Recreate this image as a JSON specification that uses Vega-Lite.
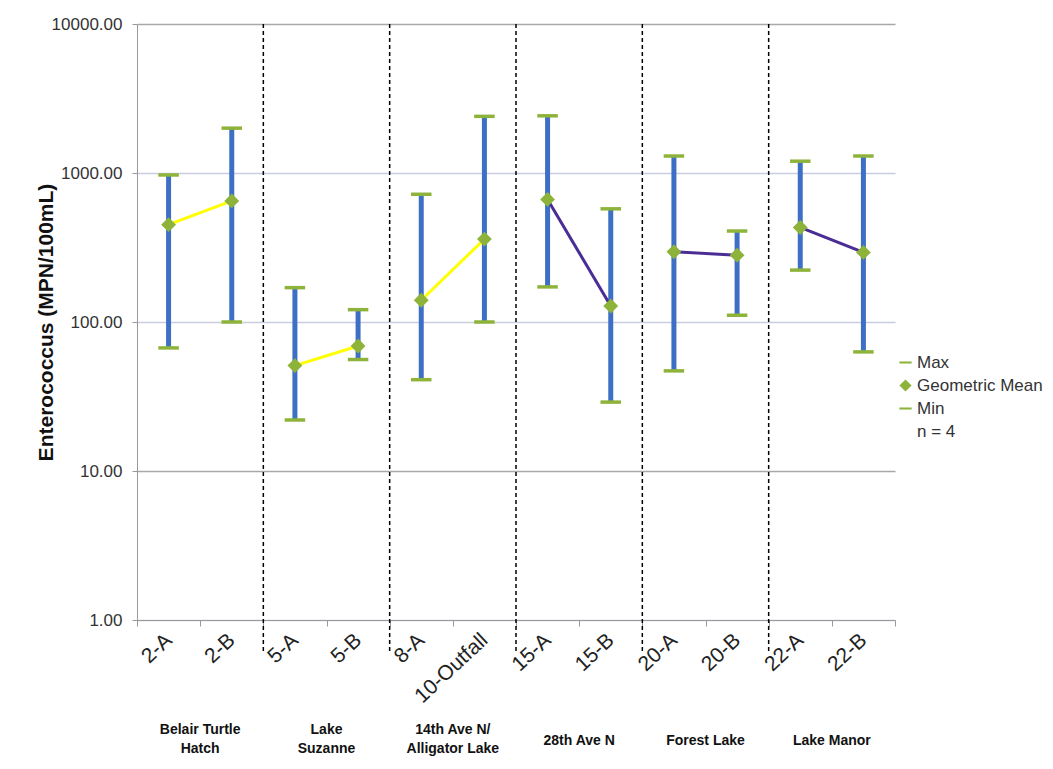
{
  "$schema": "https://vega.github.io/schema/vega-lite/v6.json",
  "width": 758,
  "height": 596,
  "autosize": {"type": "none"},
  "padding": {"left": 137, "top": 24, "right": 158, "bottom": 149},
  "background": "white",
  "config": {
    "view": {"stroke": null},
    "font": "Liberation Sans",
    "axisX": {"title": null, "labelAngle": -43, "labelFontSize": 21, "labelColor": "#222", "labelPadding": 11, "labelAlign": "right", "labelBaseline": "middle", "tickBand": "extent", "tickSize": 6, "tickColor": "#999", "domainColor": "#999", "grid": false},
    "axisY": {"titleFontSize": 21, "titleFontWeight": "bold", "titleColor": "#111", "titlePadding": -5, "labelFontSize": 17, "labelColor": "#333", "labelPadding": 10, "tickSize": 5, "tickColor": "#999", "domainColor": "#999", "grid": true, "gridWidth": 1.5,
              "gridColor": {"condition": {"test": "datum.value == 10 || datum.value == 10000", "value": "#a8a8a8"}, "value": "#c9cde0"}}
  },
  "datasets": {
    "sites": [
      {"site": "2-A", "group": "Belair Turtle Hatch", "min": 67, "mean": 450, "max": 970},
      {"site": "2-B", "group": "Belair Turtle Hatch", "min": 100, "mean": 650, "max": 2000},
      {"site": "5-A", "group": "Lake Suzanne", "min": 22, "mean": 51, "max": 170},
      {"site": "5-B", "group": "Lake Suzanne", "min": 56, "mean": 69, "max": 121},
      {"site": "8-A", "group": "14th Ave N/Alligator Lake", "min": 41, "mean": 140, "max": 720},
      {"site": "10-Outfall", "group": "14th Ave N/Alligator Lake", "min": 100, "mean": 360, "max": 2400},
      {"site": "15-A", "group": "28th Ave N", "min": 172, "mean": 665, "max": 2420},
      {"site": "15-B", "group": "28th Ave N", "min": 29, "mean": 128, "max": 575},
      {"site": "20-A", "group": "Forest Lake", "min": 47, "mean": 296, "max": 1300},
      {"site": "20-B", "group": "Forest Lake", "min": 111, "mean": 281, "max": 408},
      {"site": "22-A", "group": "Lake Manor", "min": 223, "mean": 431, "max": 1200},
      {"site": "22-B", "group": "Lake Manor", "min": 63, "mean": 293, "max": 1300}
    ],
    "separators": [
      {"site": "5-A"}, {"site": "8-A"}, {"site": "15-A"}, {"site": "20-A"}, {"site": "22-A"}
    ],
    "groups": [
      {"site": "2-A", "label": "Belair Turtle\nHatch"},
      {"site": "5-A", "label": "Lake\nSuzanne"},
      {"site": "8-A", "label": "14th Ave N/\nAlligator Lake"},
      {"site": "15-A", "label": "28th Ave N"},
      {"site": "20-A", "label": "Forest Lake"},
      {"site": "22-A", "label": "Lake Manor"}
    ]
  },
  "data": {"name": "sites"},
  "encoding": {
    "x": {
      "field": "site", "type": "nominal", "title": null,
      "scale": {"domain": ["2-A","2-B","5-A","5-B","8-A","10-Outfall","15-A","15-B","20-A","20-B","22-A","22-B"], "paddingInner": 0, "paddingOuter": 0}
    }
  },
  "layer": [
    {
      "data": {"name": "separators"},
      "mark": {"type": "rule", "color": "black", "strokeDash": [4, 3], "strokeWidth": 1.5},
      "encoding": {
        "x": {"field": "site", "type": "nominal", "bandPosition": 0, "title": null,
              "scale": {"domain": ["2-A","2-B","5-A","5-B","8-A","10-Outfall","15-A","15-B","20-A","20-B","22-A","22-B"], "paddingInner": 0, "paddingOuter": 0}},
        "y": {"datum": 10000, "type": "quantitative", "title": "Enterococcus (MPN/100mL)", "scale": {"type": "log", "domain": [1, 10000], "nice": false},
              "axis": {"values": [1, 10, 100, 1000, 10000], "format": ".2f"}},
        "y2": {"datum": 0.62}
      }
    },
    {
      "mark": {"type": "rule", "color": "#3d70c4", "strokeWidth": 5},
      "encoding": {
        "y": {"field": "min", "type": "quantitative", "title": "Enterococcus (MPN/100mL)", "scale": {"type": "log", "domain": [1, 10000], "nice": false},
              "axis": {"values": [1, 10, 100, 1000, 10000], "format": ".2f"}},
        "y2": {"field": "max"}
      }
    },
    {
      "mark": {"type": "line", "strokeWidth": 3},
      "encoding": {
        "y": {"field": "mean", "type": "quantitative", "title": "Enterococcus (MPN/100mL)", "scale": {"type": "log", "domain": [1, 10000], "nice": false},
              "axis": {"values": [1, 10, 100, 1000, 10000], "format": ".2f"}},
        "color": {"field": "group", "type": "nominal", "legend": null,
                  "scale": {"domain": ["Belair Turtle Hatch","Lake Suzanne","14th Ave N/Alligator Lake","28th Ave N","Forest Lake","Lake Manor"],
                            "range": ["#ffff00","#ffff00","#ffff00","#4a2c95","#4a2c95","#4a2c95"]}}
      }
    },
    {
      "transform": [{"fold": ["max", "min"], "as": ["stat", "value"]}],
      "mark": {"type": "point", "filled": true, "opacity": 1, "color": "#8db33a", "size": 420},
      "encoding": {
        "y": {"field": "value", "type": "quantitative", "title": "Enterococcus (MPN/100mL)", "scale": {"type": "log", "domain": [1, 10000], "nice": false},
              "axis": {"values": [1, 10, 100, 1000, 10000], "format": ".2f"}},
        "shape": {"field": "stat", "type": "nominal",
                  "scale": {"domain": ["max", "mean", "min", "n"], "range": ["M-1,-0.17L1,-0.17L1,0.17L-1,0.17Z", "diamond", "M-1,-0.17L1,-0.17L1,0.17L-1,0.17Z", "M0,0"]},
                  "legend": {"title": null, "orient": "none", "legendX": 760, "legendY": 330,
                             "labelExpr": "datum.value == 'max' ? 'Max' : datum.value == 'mean' ? 'Geometric Mean' : datum.value == 'min' ? 'Min' : 'n = 4'",
                             "symbolSize": 150, "symbolFillColor": "#8db33a", "symbolStrokeColor": "#8db33a", "symbolStrokeWidth": 0,
                             "labelFontSize": 17, "labelColor": "#333", "rowPadding": 5, "labelOffset": 3}}
      }
    },
    {
      "transform": [{"fold": ["mean"], "as": ["stat", "value"]}],
      "mark": {"type": "point", "filled": true, "opacity": 1, "color": "#8db33a", "size": 220},
      "encoding": {
        "y": {"field": "value", "type": "quantitative", "title": "Enterococcus (MPN/100mL)", "scale": {"type": "log", "domain": [1, 10000], "nice": false},
              "axis": {"values": [1, 10, 100, 1000, 10000], "format": ".2f"}},
        "shape": {"field": "stat", "type": "nominal",
                  "scale": {"domain": ["max", "mean", "min", "n"], "range": ["M-1,-0.17L1,-0.17L1,0.17L-1,0.17Z", "diamond", "M-1,-0.17L1,-0.17L1,0.17L-1,0.17Z", "M0,0"]},
                  "legend": {"title": null, "orient": "none", "legendX": 760, "legendY": 330,
                             "labelExpr": "datum.value == 'max' ? 'Max' : datum.value == 'mean' ? 'Geometric Mean' : datum.value == 'min' ? 'Min' : 'n = 4'",
                             "symbolSize": 150, "symbolFillColor": "#8db33a", "symbolStrokeColor": "#8db33a", "symbolStrokeWidth": 0,
                             "labelFontSize": 17, "labelColor": "#333", "rowPadding": 5, "labelOffset": 3}}
      }
    },
    {
      "data": {"name": "groups"},
      "transform": [{"filter": "indexof(datum.label, '\\n') >= 0"}],
      "mark": {"type": "text", "font": "Liberation Sans", "fontWeight": "bold", "fontSize": 14, "color": "#111", "lineBreak": "\n", "align": "center", "baseline": "middle", "dy": 110, "lineHeight": 19},
      "encoding": {
        "x": {"field": "site", "type": "nominal", "bandPosition": 1, "title": null,
              "scale": {"domain": ["2-A","2-B","5-A","5-B","8-A","10-Outfall","15-A","15-B","20-A","20-B","22-A","22-B"], "paddingInner": 0, "paddingOuter": 0}},
        "y": {"datum": 1, "type": "quantitative", "title": "Enterococcus (MPN/100mL)", "scale": {"type": "log", "domain": [1, 10000], "nice": false},
              "axis": {"values": [1, 10, 100, 1000, 10000], "format": ".2f"}},
        "text": {"field": "label"}
      }
    },
    {
      "data": {"name": "groups"},
      "transform": [{"filter": "indexof(datum.label, '\\n') < 0"}],
      "mark": {"type": "text", "font": "Liberation Sans", "fontWeight": "bold", "fontSize": 14, "color": "#111", "align": "center", "baseline": "middle", "dy": 121},
      "encoding": {
        "x": {"field": "site", "type": "nominal", "bandPosition": 1, "title": null,
              "scale": {"domain": ["2-A","2-B","5-A","5-B","8-A","10-Outfall","15-A","15-B","20-A","20-B","22-A","22-B"], "paddingInner": 0, "paddingOuter": 0}},
        "y": {"datum": 1, "type": "quantitative", "title": "Enterococcus (MPN/100mL)", "scale": {"type": "log", "domain": [1, 10000], "nice": false},
              "axis": {"values": [1, 10, 100, 1000, 10000], "format": ".2f"}},
        "text": {"field": "label"}
      }
    }
  ]
}
